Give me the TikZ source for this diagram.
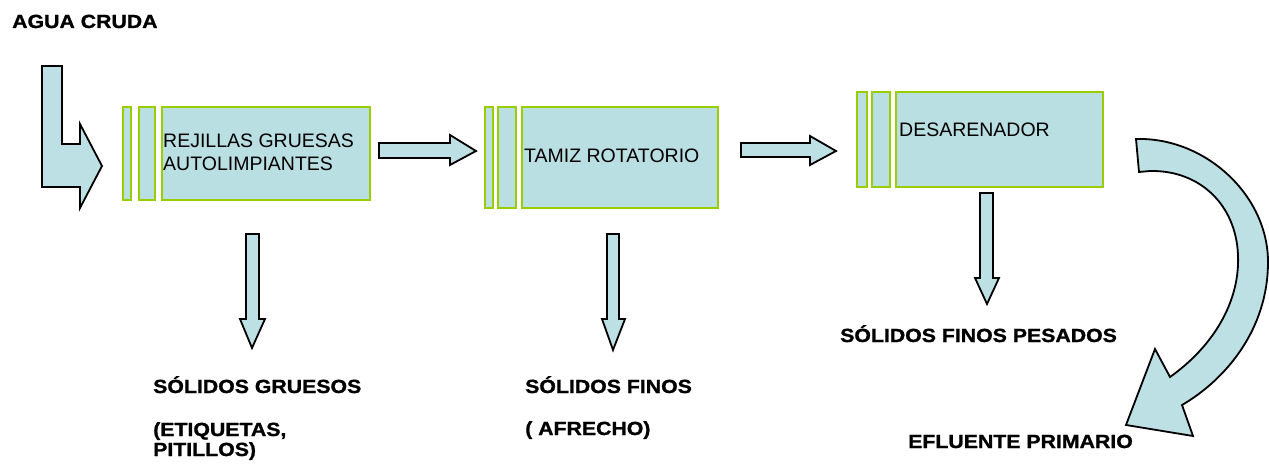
\documentclass[tikz,border=0pt]{standalone}
\usepackage{fontspec}
\setmainfont{Liberation Sans}
\newfontfamily\lblfont[FakeStretch=1.12,FakeBold=1.2]{Liberation Sans}
\definecolor{tankblue}{HTML}{BADFE3}
\definecolor{flowblue}{HTML}{BCE0E4}
\definecolor{edgegreen}{HTML}{9ACD00}
\begin{document}
\begin{tikzpicture}[x=1pt,y=-1pt,
  stage/.style={draw=edgegreen, line width=1.8pt, fill=tankblue},
  flow/.style={draw=black, line width=1.8pt, fill=flowblue, line join=miter},
  boxtext/.style={anchor=base west, inner sep=0pt, font=\fontsize{19.5}{24}\selectfont},
  label/.style={anchor=base west, inner sep=0pt, align=left,
    font=\lblfont\bfseries\fontsize{19}{20}\selectfont}]
\useasboundingbox (0,0) rectangle (1269,468);

% raw water inlet
\node[label] (raw) at (12,28) {AGUA CRUDA};
\draw[flow] (42,66) -- (62,66) -- (62,144) -- (80,144) -- (80,124) -- (102,166)
  -- (80,208) -- (80,187) -- (42,187) -- cycle;

% stage 1: coarse screens
\draw[stage] (123,107) rectangle (131,200);
\draw[stage] (139,107) rectangle (155,200);
\draw[stage] (162,107) rectangle (370,200);
\node[boxtext] (t1a) at (163,147) {REJILLAS GRUESAS};
\node[boxtext] (t1b) at (163,171) {AUTOLIMPIANTES};

% stage 2: rotary sieve
\draw[stage] (485,107) rectangle (493,208);
\draw[stage] (498,107) rectangle (516,208);
\draw[stage] (522,107) rectangle (718,208);
\node[boxtext] (t2) at (524,162) {TAMIZ ROTATORIO};

% stage 3: grit chamber
\draw[stage] (857,92) rectangle (867,187);
\draw[stage] (872,92) rectangle (890,187);
\draw[stage] (896,92) rectangle (1103,187);
\node[boxtext] (t3) at (899,137) {DESARENADOR};

% flow between stages
\draw[flow] (379,143) -- (450,143) -- (450,135) -- (476,151) -- (450,165)
  -- (450,158) -- (379,158) -- cycle;
\draw[flow] (741,143) -- (810,143) -- (810,136) -- (836,151) -- (810,165)
  -- (810,157) -- (741,157) -- cycle;

% solids removed at each stage
\draw[flow] (246,234) -- (259,234) -- (259,319) -- (265,319) -- (252,348)
  -- (240,319) -- (246,319) -- cycle;
\draw[flow] (607,234) -- (619,234) -- (619,319) -- (625,319) -- (613,350)
  -- (602,319) -- (607,319) -- cycle;
\draw[flow] (980,193) -- (993,193) -- (993,278) -- (999,278) -- (987,304)
  -- (975,278) -- (980,278) -- cycle;

\node[label] (sg) at (153,393) {SÓLIDOS GRUESOS};
\node[label, font=\lblfont\bfseries\fontsize{19}{20}\selectfont] (sge) at (153,456) {(ETIQUETAS,\\PITILLOS)};
\node[label] (sf) at (525,393) {SÓLIDOS FINOS};
\node[label] (sfa) at (525,435) {( AFRECHO)};
\node[label] (sfp) at (840,342) {SÓLIDOS FINOS PESADOS};

% curved outlet arrow
\draw[flow] (1136,139) .. controls (1205,137) and (1268,195) .. (1268,262)
  .. controls (1268,330) and (1225,380) .. (1182,405)
  -- (1193,436) -- (1126,425) -- (1155,349) -- (1170,377)
  .. controls (1215,345) and (1240,300) .. (1238,255)
  .. controls (1236,205) and (1200,170) .. (1150,171)
  -- (1139,172) -- cycle;
\node[label] (ef) at (908,448) {EFLUENTE PRIMARIO};
\end{tikzpicture}
\end{document}
